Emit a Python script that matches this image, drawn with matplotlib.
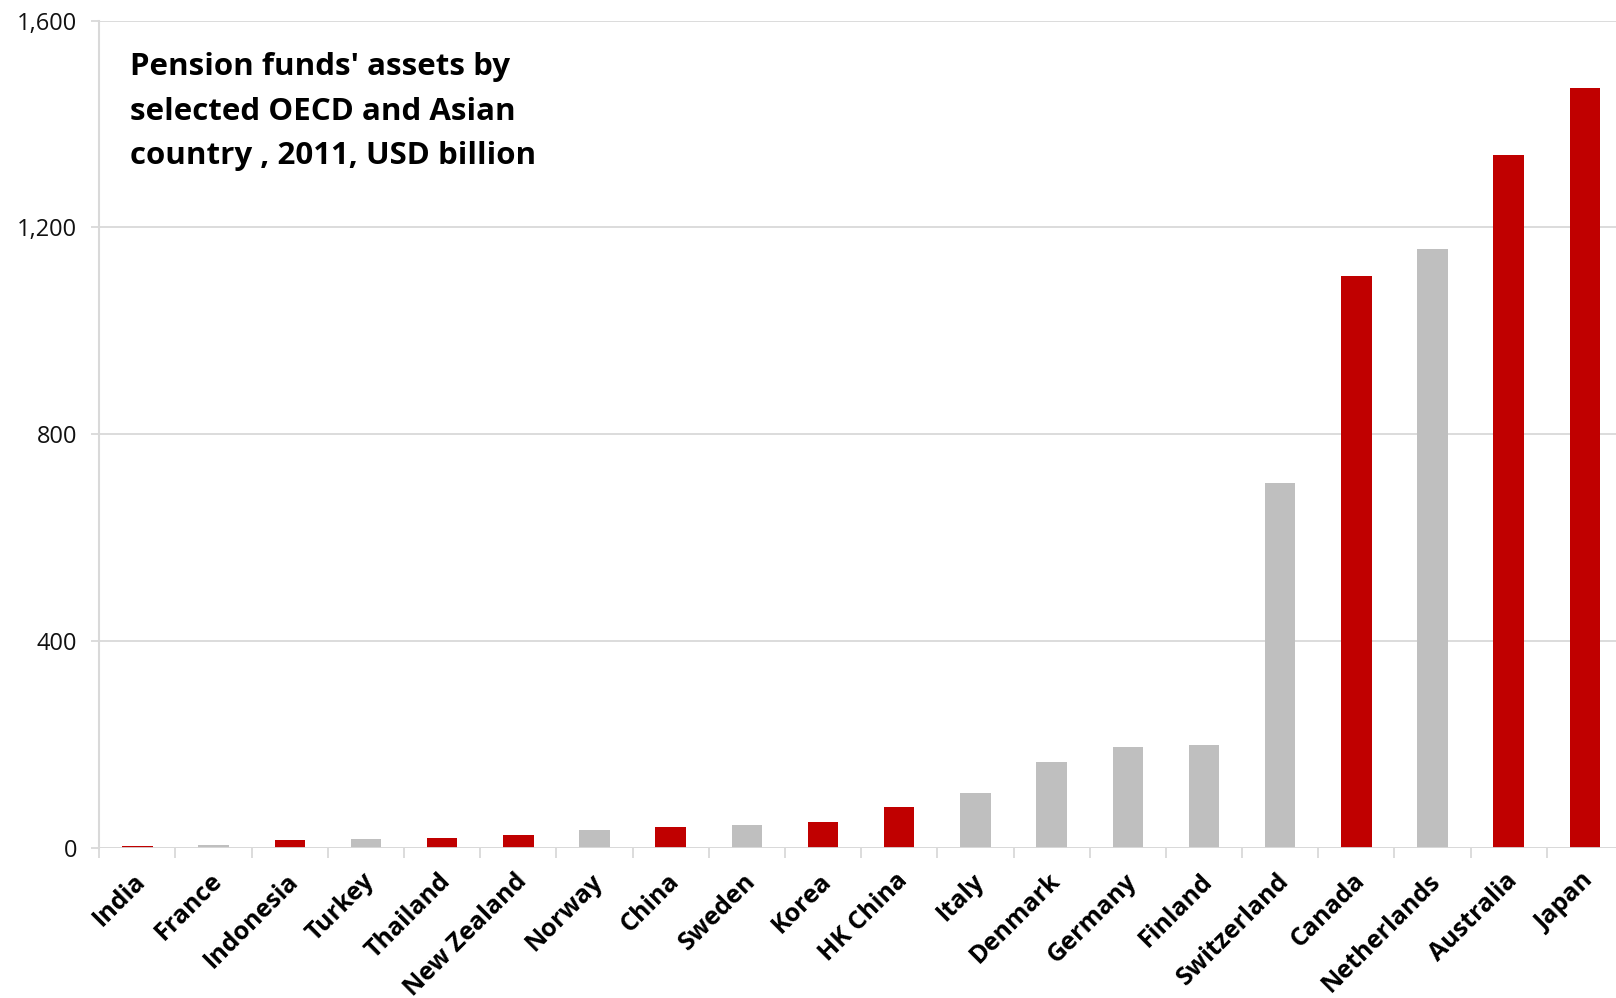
import matplotlib.pyplot as plt
import matplotlib.transforms as mtransforms
from matplotlib.ticker import FuncFormatter
import numpy as np

plt.rcParams['font.family'] = ['Open Sans', 'DejaVu Sans']

# Pension fund assets, 2011, USD billion
countries = ['India', 'France', 'Indonesia', 'Turkey', 'Thailand', 'New Zealand',
             'Norway', 'China', 'Sweden', 'Korea', 'HK China', 'Italy', 'Denmark',
             'Germany', 'Finland', 'Switzerland', 'Canada', 'Netherlands',
             'Australia', 'Japan']
assets = [3, 5, 15, 17, 19, 25, 35, 40, 43, 50, 79, 106, 165, 194, 198,
          705, 1106, 1158, 1340, 1470]
# Asian / Pacific economies are highlighted in red, the rest in grey
highlight = [True, False, True, False, True, True, False, True, False, True,
             True, False, False, False, False, False, True, False, True, True]

title_lines = ["Pension funds' assets by",
               "selected OECD and Asian",
               "country , 2011, USD billion"]

RED = '#C00000'
GREY = '#BFBFBF'
LINE = '#D9D9D9'

W, H = 1616, 998
fig = plt.figure(figsize=(W / 100, H / 100), dpi=100)

# axes box in pixels; the plot area runs slightly past the right edge
left, right, top, bottom = 99.3, 1623.0, 20.7, 847.7
ax = fig.add_axes([left / W, 1 - bottom / H, (right - left) / W, (bottom - top) / H])

x = np.arange(len(countries))
colors = [RED if h else GREY for h in highlight]
ax.bar(x, assets, width=0.4, color=colors, zorder=3)

ax.set_xlim(-0.5, len(countries) - 0.5)
ax.set_ylim(0, 1600)
ax.set_yticks([0, 400, 800, 1200, 1600])
ax.yaxis.set_major_formatter(FuncFormatter(lambda v, p: f'{int(v):,}'))
ax.grid(axis='y', color=LINE, linewidth=1.3, zorder=0)

for s in ['top', 'right', 'bottom']:
    ax.spines[s].set_visible(False)
ax.spines['left'].set_color(LINE)
ax.spines['left'].set_linewidth(1.5)
ax.axhline(0, color=LINE, linewidth=2, zorder=4)

ax.tick_params(axis='y', length=6, width=1.3, color=LINE, labelsize=17,
               labelcolor='#111111', pad=10)

# category labels at bar centres, tick marks between categories
ax.set_xticks(x)
ax.set_xticklabels(countries, rotation=45, ha='right', va='top',
                   rotation_mode='anchor', fontsize=18, fontweight='bold')
ax.tick_params(axis='x', which='major', length=0, pad=15)
ax.set_xticks(np.arange(-0.5, len(countries), 1.0), minor=True)
ax.tick_params(axis='x', which='minor', length=7, width=1.3, color=LINE)

# nudge the rotated labels a little to the left
shift = mtransforms.ScaledTranslation(-0.04, 0, fig.dpi_scale_trans)
for lbl in ax.get_xticklabels():
    lbl.set_transform(lbl.get_transform() + shift)

for i, line in enumerate(title_lines):
    fig.text(130 / W, 1 - (75.2 + 44.4 * i) / H, line, fontsize=22.5,
             fontweight='bold', ha='left', va='baseline')

fig.savefig('out.png', dpi=100)
